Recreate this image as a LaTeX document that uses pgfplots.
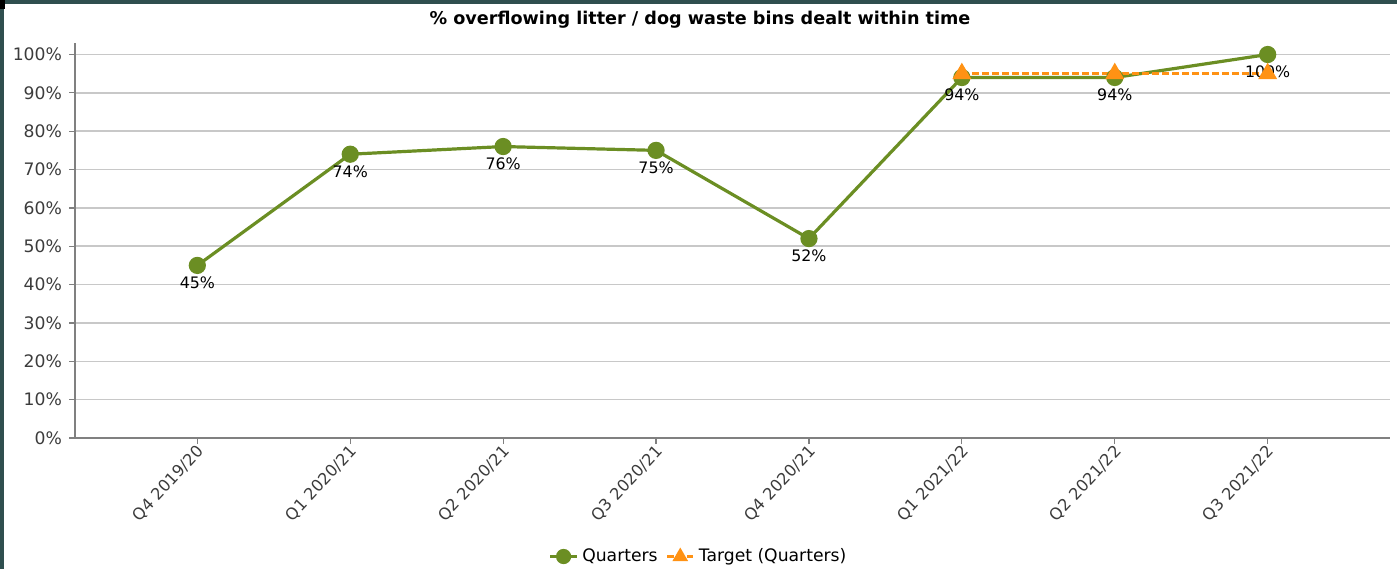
\documentclass[border=0pt]{standalone}
\usepackage{pgfplots}
\pgfplotsset{compat=1.18}
\usepackage{fontspec}
\setmainfont{DejaVu Sans}
\definecolor{qgreen}{RGB}{107,142,35}
\definecolor{torange}{RGB}{255,146,20}
\definecolor{frame}{RGB}{47,79,79}
\definecolor{gridc}{RGB}{200,200,200}
\definecolor{axc}{RGB}{128,128,128}
\definecolor{tickc}{RGB}{60,60,60}
\begin{document}
\begin{tikzpicture}[x=1pt,y=1pt]
\useasboundingbox (0,0) rectangle (698.5,284.5);
\fill[frame] (0,0) rectangle (2.2,284.5);
\fill[frame] (0,282.3) rectangle (698.5,284.5);
\fill[black] (0,280) rectangle (2.5,284.5);
\node[font=\bfseries\fontsize{8.8}{10}\selectfont] at (350,274.5) {\% overflowing litter / dog waste bins dealt within time};
\begin{axis}[
  at={(37.5pt,65.5pt)}, anchor=south west,
  scale only axis,
  width=657.5pt, height=197.5pt,
  xmin=-0.8, xmax=7.8,
  ymin=0, ymax=103,
  axis x line*=bottom, axis y line*=left,
  axis line style={axc, line width=0.8pt},
  ytick={0,10,...,100},
  yticklabel={\pgfmathprintnumber{\tick}\%},
  /pgf/number format/assume math mode=true,
  ymajorgrids, grid style={gridc, line width=0.8pt},
  xtick={0,...,7},
  xticklabels={Q4 2019/20,Q1 2020/21,Q2 2020/21,Q3 2020/21,Q4 2020/21,Q1 2021/22,Q2 2021/22,Q3 2021/22},
  xticklabel style={rotate=47, anchor=east, font=\fontsize{8.1}{9}\selectfont, text=tickc, xshift=3pt, yshift=-3pt},
  yticklabel style={font=\fontsize{8.6}{10}\selectfont, text=tickc},
  tick style={axc, line width=0.6pt},
  tick align=outside,
  major tick length=3pt,
  legend style={at={(0.475,-0.3)}, anchor=center, draw=none, fill=none,
    font=\fontsize{8.6}{10}\selectfont, legend columns=2,
    /tikz/every even column/.append style={column sep=2pt}},
  legend image code/.code={\draw[mark repeat=2,mark phase=2,mark size=3pt] plot coordinates {(0cm,0cm) (0.23cm,0cm) (0.46cm,0cm)};},
  legend cell align=left,
  clip=false,
]
\addplot[qgreen, line width=1.6pt, mark=*, mark size=3.5pt,
  nodes near coords={\pgfmathprintnumber{\pgfplotspointmeta}\%},
  every node near coord/.append style={anchor=north, font=\fontsize{7.9}{9}\selectfont, text=black, yshift=-1.5pt}]
  coordinates {(0,45) (1,74) (2,76) (3,75) (4,52) (5,94) (6,94) (7,100)};
\addlegendentry{Quarters}
\addplot[torange, line width=1.5pt, dash pattern=on 3.5pt off 1.5pt, mark=triangle*, mark size=4pt, mark options={solid}]
  coordinates {(5,95) (6,95) (7,95)};
\addlegendentry{Target (Quarters)}
\end{axis}
\end{tikzpicture}
\end{document}
